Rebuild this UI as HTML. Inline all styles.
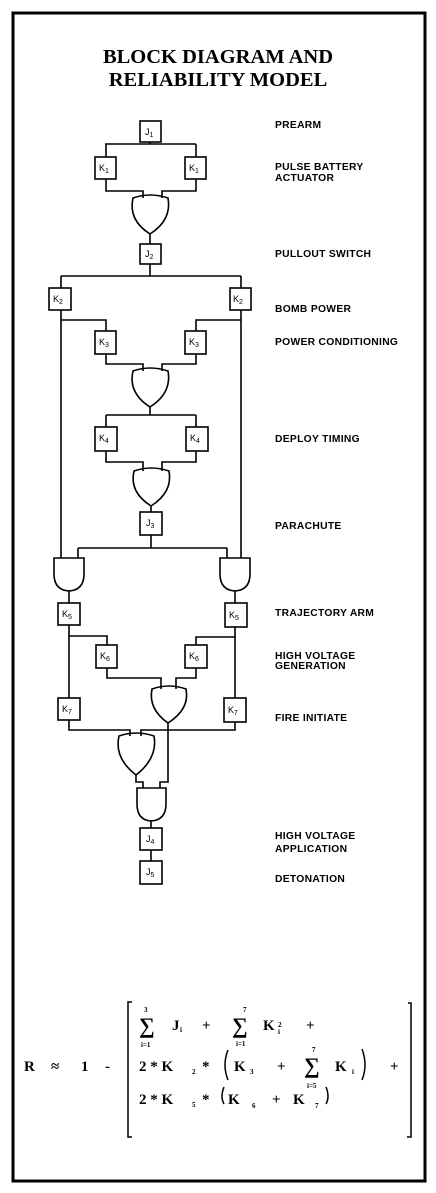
<!DOCTYPE html>
<html><head><meta charset="utf-8"><style>
html,body{margin:0;padding:0;background:#fff}
svg{display:block}
.l{font-family:"Liberation Sans",sans-serif;font-weight:bold;font-size:10.3px;letter-spacing:0.3px}
.b{font-family:"Liberation Sans",sans-serif;font-size:9px}
.m{font-family:"Liberation Serif",serif;font-weight:bold;font-size:15px}
.s{font-family:"Liberation Serif",serif;font-weight:bold;font-size:7px}
</style></head><body>
<svg width="436" height="1193" viewBox="0 0 436 1193" xmlns="http://www.w3.org/2000/svg">
<rect x="13" y="13" width="412" height="1168" fill="none" stroke="#000" stroke-width="3"/>
<text x="218" y="63" text-anchor="middle" font-family="Liberation Serif,serif" font-weight="bold" font-size="20.5">BLOCK DIAGRAM AND</text>
<text x="218" y="86" text-anchor="middle" font-family="Liberation Serif,serif" font-weight="bold" font-size="20.5">RELIABILITY MODEL</text>
<g fill="none" stroke="#000" stroke-width="1.6">
<path d="M150 142V144M105 144H196M106 144V157M196 144V157"/>
<path d="M106 179V191H143V198M196 179V191H162V198"/>
<path d="M150 233V244M150 264V276M61 276H241M61 276V288M241 276V288"/>
<path d="M61 310V558M241 310V558"/>
<path d="M61 320H106V331M241 320H196V331"/>
<path d="M106 354V364H143V371M196 354V364H162V371"/>
<path d="M150 406V415M106 415H196M106 415V427M196 415V427"/>
<path d="M106 451V462H143V471M196 451V462H162V471"/>
<path d="M151 505V512M151 535V548M78 548H227M78 548V558M227 548V558"/>
<path d="M69 590V603M235 590V603"/>
<path d="M69 625V698M69 636H107V645M235 627V698M235 637H196V645"/>
<path d="M107 668V678H161V689M196 668V678H176V689"/>
<path d="M69 720V730H130V736M235 722V730H141V736"/>
<path d="M168 722V782H160V788M136 774V782H143V788"/>
<path d="M151 820V828M151 850V861"/>
<path d="M133 198Q150 192 168 198Q172 220 150 234Q128 220 133 198Z"/>
<path d="M133 371Q150 365 168 371Q172 393 150 407Q128 393 133 371Z"/>
<path d="M134 471Q151 465 169 471Q173 492 151 506Q129 492 134 471Z"/>
<path d="M152 689Q169 683 186 689Q190 709 168 723Q148 709 152 689Z"/>
<path d="M119 736Q136 730 154 736Q158 758 136 775Q114 758 119 736Z"/>
<path d="M54 558H84V574Q84 590 69 591Q54 590 54 574Z"/>
<path d="M220 558H250V574Q250 590 235 591Q220 590 220 574Z"/>
<path d="M137 788H166V804Q166 820 151 821Q137 820 137 804Z"/>
</g>
<g fill="#fff" stroke="#000" stroke-width="1.6">
<rect x="140" y="121" width="21" height="21"/>
<rect x="95" y="157" width="21" height="22"/><rect x="185" y="157" width="21" height="22"/>
<rect x="140" y="244" width="21" height="20"/>
<rect x="49" y="288" width="22" height="22"/><rect x="230" y="288" width="21" height="22"/>
<rect x="95" y="331" width="21" height="23"/><rect x="185" y="331" width="21" height="23"/>
<rect x="95" y="427" width="22" height="24"/><rect x="186" y="427" width="22" height="24"/>
<rect x="140" y="512" width="22" height="23"/>
<rect x="58" y="603" width="22" height="22"/><rect x="225" y="603" width="22" height="24"/>
<rect x="96" y="645" width="21" height="23"/><rect x="185" y="645" width="22" height="23"/>
<rect x="58" y="698" width="22" height="22"/><rect x="224" y="698" width="22" height="24"/>
<rect x="140" y="828" width="22" height="22"/>
<rect x="140" y="861" width="22" height="23"/>
</g>
<g class="b">
<text x="145" y="135">J<tspan font-size="7" dy="2">1</tspan></text>
<text x="99" y="171">K<tspan font-size="7" dy="2">1</tspan></text><text x="189" y="171">K<tspan font-size="7" dy="2">1</tspan></text>
<text x="145" y="257">J<tspan font-size="7" dy="2">2</tspan></text>
<text x="53" y="302">K<tspan font-size="7" dy="2">2</tspan></text><text x="233" y="302">K<tspan font-size="7" dy="2">2</tspan></text>
<text x="99" y="345">K<tspan font-size="7" dy="2">3</tspan></text><text x="189" y="345">K<tspan font-size="7" dy="2">3</tspan></text>
<text x="99" y="441">K<tspan font-size="7" dy="2">4</tspan></text><text x="190" y="441">K<tspan font-size="7" dy="2">4</tspan></text>
<text x="146" y="526">J<tspan font-size="7" dy="2">3</tspan></text>
<text x="62" y="617">K<tspan font-size="7" dy="2">5</tspan></text><text x="229" y="618">K<tspan font-size="7" dy="2">5</tspan></text>
<text x="100" y="659">K<tspan font-size="7" dy="2">6</tspan></text><text x="189" y="659">K<tspan font-size="7" dy="2">6</tspan></text>
<text x="62" y="712">K<tspan font-size="7" dy="2">7</tspan></text><text x="228" y="713">K<tspan font-size="7" dy="2">7</tspan></text>
<text x="146" y="842">J<tspan font-size="7" dy="2">4</tspan></text>
<text x="146" y="875">J<tspan font-size="7" dy="2">5</tspan></text>
</g>
<g class="l">
<text x="275" y="128">PREARM</text>
<text x="275" y="170">PULSE BATTERY</text><text x="275" y="181">ACTUATOR</text>
<text x="275" y="257">PULLOUT SWITCH</text>
<text x="275" y="312">BOMB POWER</text>
<text x="275" y="345">POWER CONDITIONING</text>
<text x="275" y="442">DEPLOY TIMING</text>
<text x="275" y="529">PARACHUTE</text>
<text x="275" y="616">TRAJECTORY ARM</text>
<text x="275" y="659">HIGH VOLTAGE</text><text x="275" y="669">GENERATION</text>
<text x="275" y="721">FIRE INITIATE</text>
<text x="275" y="839">HIGH VOLTAGE</text><text x="275" y="852">APPLICATION</text>
<text x="275" y="882">DETONATION</text>
</g>
<g fill="none" stroke="#000" stroke-width="1.5">
<path d="M132 1002H128V1137H132M408 1003H411V1137H407"/>
<path d="M228 1050Q222 1065 228 1080M362 1049Q368 1065 362 1080M224 1087Q220 1097 224 1104M326 1087Q330 1097 326 1104"/>
</g>
<g class="m">
<text x="24" y="1071">R</text>
<text x="51" y="1071">≈</text>
<text x="81" y="1071">1</text>
<text x="105" y="1071">-</text>
<text x="139" y="1033" font-size="22">∑</text>
<text x="172" y="1030">J</text><text x="180" y="1032" class="s">i</text><text x="202" y="1030">+</text>
<text x="232" y="1033" font-size="22">∑</text>
<text x="263" y="1030">K</text><text x="278" y="1027" class="s">2</text><text x="278" y="1034" class="s">i</text><text x="306" y="1030">+</text>
<text x="139" y="1071">2 * K</text><text x="192" y="1074" class="s">2</text><text x="202" y="1071">*</text>
<text x="234" y="1071">K</text><text x="250" y="1074" class="s">3</text><text x="277" y="1071">+</text>
<text x="304" y="1073" font-size="22">∑</text>
<text x="335" y="1071">K</text><text x="352" y="1074" class="s">i</text>
<text x="390" y="1071">+</text>
<text x="139" y="1104">2 * K</text><text x="192" y="1107" class="s">5</text><text x="202" y="1104">*</text>
<text x="228" y="1104">K</text><text x="252" y="1108" class="s">6</text><text x="272" y="1104">+</text>
<text x="293" y="1104">K</text><text x="315" y="1108" class="s">7</text>
</g>
<g class="s">
<text x="144" y="1012">3</text><text x="141" y="1047">i=1</text>
<text x="243" y="1012">7</text><text x="236" y="1046">i=1</text>
<text x="312" y="1052">7</text><text x="307" y="1088">i=5</text>
</g>
</svg>
</body></html>
